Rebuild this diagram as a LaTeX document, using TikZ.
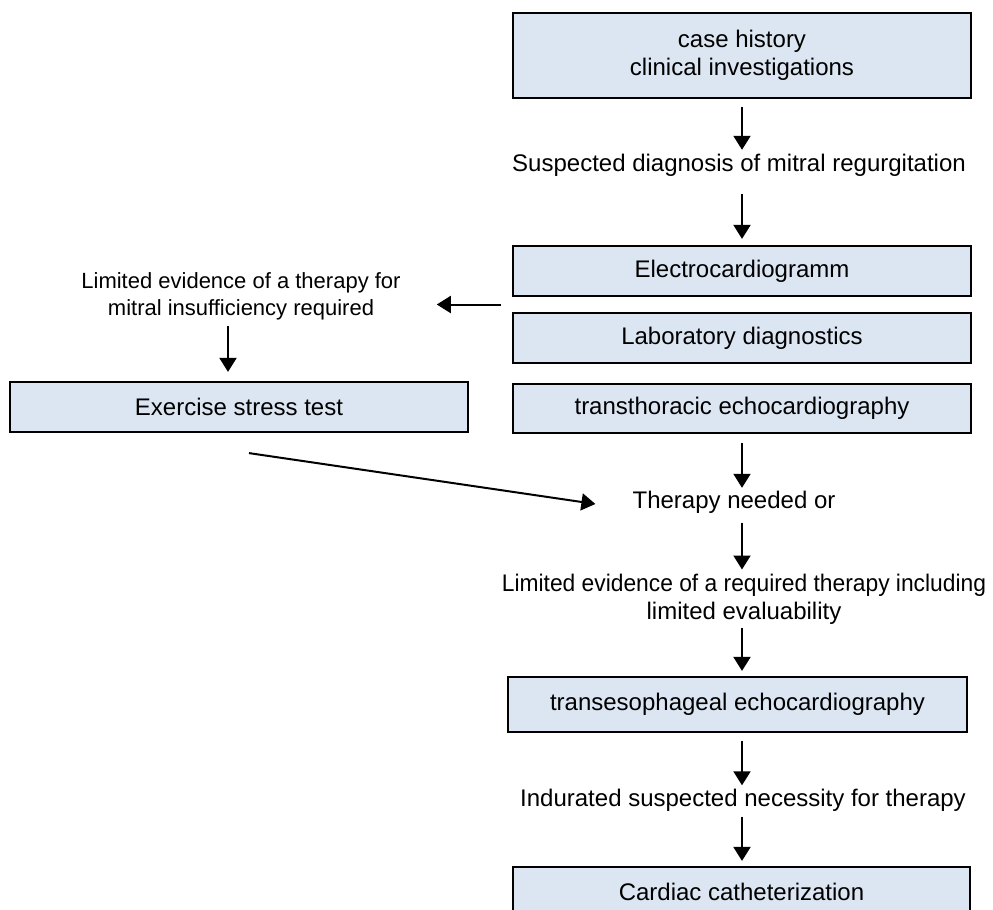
\documentclass[tikz,border=0pt]{standalone}
\usepackage{fontspec}
\setmainfont{Liberation Sans}
\usepackage{xcolor}
\usetikzlibrary{arrows.meta,calc}
\definecolor{boxblue}{HTML}{DCE6F2}
\tikzset{
	stepbox/.style={
			draw=black, line width=2.2pt, fill=boxblue,
			minimum height=50pt, inner sep=0pt, align=center
		},
	note/.style={inner sep=0pt, align=center, text height=17pt, text depth=5pt},
	arr/.style={-{Triangle[width=17pt,length=14pt]}, line width=2pt}
}

\begin{document}
\begin{tikzpicture}[x=1pt, y=-1pt, font=\fontsize{24}{27.5}\selectfont]
        \useasboundingbox (0,0) rectangle (993,910);
        \clip (0,0) rectangle (993,910);

        % Right column
        \node[stepbox, minimum width=458pt, minimum height=85pt] (case) at (742, 55.5)
            {case history\\clinical investigations};
        \node[note] (susp) at (739, 165) {Suspected diagnosis of mitral regurgitation};
        \node[stepbox, minimum width=458pt] (ecg) at (742, 271) {Electrocardiogramm};
        \node[stepbox, minimum width=458pt] (lab) at (742, 338) {Laboratory diagnostics};
        \node[stepbox, minimum width=458pt, minimum height=49pt] (tte) at (742, 408.5)
            {transthoracic echocardiography};
        \node[note] (need) at (734, 502) {Therapy needed or};
        \node[inner sep=0pt, align=center, anchor=north] (lim) at (744, 574)
            {\scalebox{0.95}[1]{Limited evidence of a required therapy including}\\limited evaluability};
        \node[stepbox, minimum width=459pt, minimum height=55pt] (tee) at (737.5, 704.5)
            {transesophageal echocardiography};
        \node[note] (ind) at (743, 800) {Indurated suspected necessity for therapy};
        \node[stepbox, minimum width=457pt] (cath) at (741.5, 892) {Cardiac catheterization};

        % Left column
        \node[inner sep=0pt, align=center, font=\fontsize{22}{27}\selectfont] (ltext) at (241, 296)
            {Limited evidence of a therapy for\\mitral insufficiency required};
        \node[stepbox, minimum width=458pt] (ex) at (239, 407) {Exercise stress test};

        % Arrows
        \coordinate (split) at ($(ecg.south west)!.5!(lab.north west)$);
        \draw[arr, shorten <=8pt, shorten >=4pt] (case) -- (case |- susp.north);
        \draw[arr, shorten <=18pt, shorten >=6pt] (susp.south -| ecg) -- (ecg);
        \draw[arr, shorten <=11pt, shorten >=36pt] (split) -- (split -| ltext.east);
        \draw[arr, shorten <=6pt, shorten >=9pt] ([xshift=-13pt]ltext.south) -- ([xshift=-11pt]ex.north);
        \draw[arr] ([xshift=10pt, yshift=-20pt]ex.south) -- ([xshift=-37pt, yshift=-2pt]need.west);
        \draw[arr, shorten <=9pt, shorten >=3pt] (tte) -- (tte |- need.north);
        \draw[arr, shorten <=9.5pt, shorten >=4.5pt] (need.south -| tte) -- (lim.north -| tte);
        \draw[arr, shorten <=3.5pt, shorten >=5pt] (lim.south -| tte) -- (tte |- tee.north);
        \draw[arr, shorten <=8pt, shorten >=3.5pt] (tte |- tee.south) -- (ind.north -| tte);
        \draw[arr, shorten <=5.5pt, shorten >=5pt] (ind.south -| tte) -- (tte |- cath.north);
    \end{tikzpicture}
\end{document}
